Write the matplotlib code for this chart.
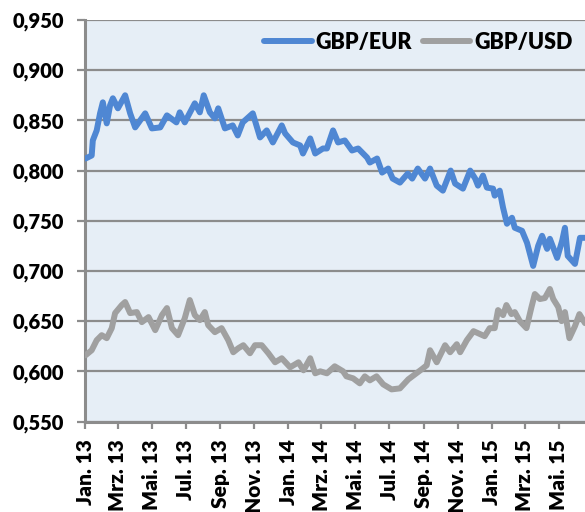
import matplotlib
matplotlib.use('Agg')
import matplotlib.pyplot as plt
import matplotlib.dates as mdates
import matplotlib.ticker as mticker
import pandas as pd

plt.rcParams['font.family'] = ['Lato', 'DejaVu Sans']
plt.rcParams['font.weight'] = 'heavy'

# GBP/EUR
eur_dates = ['2013-01-02', '2013-01-13', '2013-01-15', '2013-01-22', '2013-01-28', '2013-02-02',
             '2013-02-09', '2013-02-15', '2013-02-20', '2013-03-01', '2013-03-14', '2013-03-23',
             '2013-04-01', '2013-04-19', '2013-05-01', '2013-05-16', '2013-05-28', '2013-06-14',
             '2013-06-20', '2013-06-29', '2013-07-17', '2013-07-26', '2013-08-02', '2013-08-13',
             '2013-08-22', '2013-08-28', '2013-09-09', '2013-09-23', '2013-10-02', '2013-10-11',
             '2013-10-29', '2013-11-11', '2013-11-23', '2013-12-04', '2013-12-20', '2013-12-26',
             '2014-01-09', '2014-01-22', '2014-01-27', '2014-02-09', '2014-02-18', '2014-03-04',
             '2014-03-11', '2014-03-22', '2014-03-31', '2014-04-12', '2014-04-25', '2014-05-06',
             '2014-05-22', '2014-05-27', '2014-06-09', '2014-06-18', '2014-06-29', '2014-07-07',
             '2014-07-20', '2014-08-03', '2014-08-11', '2014-08-21', '2014-09-03', '2014-09-12',
             '2014-09-24', '2014-10-05', '2014-10-19', '2014-10-27', '2014-11-10', '2014-11-23',
             '2014-12-02', '2014-12-07', '2014-12-16', '2014-12-23', '2015-01-03', '2015-01-06',
             '2015-01-15', '2015-01-21', '2015-01-28', '2015-02-06', '2015-02-11', '2015-02-24',
             '2015-03-05', '2015-03-16', '2015-03-25', '2015-04-01', '2015-04-10', '2015-04-15',
             '2015-04-28', '2015-05-07', '2015-05-12', '2015-05-17', '2015-05-30', '2015-06-08',
             '2015-06-17']
eur_values = [0.812, 0.815, 0.830, 0.840, 0.857, 0.868,
              0.847, 0.865, 0.872, 0.862, 0.875, 0.857,
              0.843, 0.857, 0.842, 0.843, 0.855, 0.848,
              0.858, 0.848, 0.867, 0.858, 0.875, 0.858,
              0.852, 0.862, 0.842, 0.845, 0.835, 0.848,
              0.857, 0.833, 0.840, 0.828, 0.845, 0.837,
              0.828, 0.825, 0.817, 0.832, 0.817, 0.822,
              0.822, 0.840, 0.828, 0.830, 0.820, 0.822,
              0.813, 0.808, 0.812, 0.798, 0.802, 0.792,
              0.788, 0.797, 0.792, 0.802, 0.792, 0.802,
              0.785, 0.780, 0.800, 0.787, 0.782, 0.800,
              0.792, 0.785, 0.795, 0.783, 0.782, 0.775,
              0.780, 0.763, 0.747, 0.753, 0.743, 0.740,
              0.728, 0.705, 0.725, 0.735, 0.722, 0.732,
              0.713, 0.730, 0.743, 0.715, 0.707, 0.733,
              0.733]

# GBP/USD
usd_dates = ['2013-01-02', '2013-01-13', '2013-01-22', '2013-01-31', '2013-02-09', '2013-02-18',
             '2013-02-24', '2013-03-08', '2013-03-14', '2013-03-23', '2013-04-04', '2013-04-13',
             '2013-04-25', '2013-05-07', '2013-05-19', '2013-05-28', '2013-06-06', '2013-06-17',
             '2013-06-29', '2013-07-08', '2013-07-17', '2013-07-26', '2013-08-04', '2013-08-10',
             '2013-08-22', '2013-09-03', '2013-09-15', '2013-09-24', '2013-10-03', '2013-10-12',
             '2013-10-24', '2013-11-02', '2013-11-14', '2013-11-26', '2013-12-08', '2013-12-20',
             '2014-01-04', '2014-01-19', '2014-01-28', '2014-02-09', '2014-02-18', '2014-02-27',
             '2014-03-11', '2014-03-25', '2014-04-09', '2014-04-15', '2014-04-27', '2014-05-09',
             '2014-05-18', '2014-05-27', '2014-06-08', '2014-06-20', '2014-07-05', '2014-07-20',
             '2014-08-04', '2014-08-16', '2014-08-28', '2014-09-06', '2014-09-12', '2014-09-24',
             '2014-10-09', '2014-10-18', '2014-10-30', '2014-11-05', '2014-11-17', '2014-11-29',
             '2014-12-11', '2014-12-19', '2014-12-28', '2015-01-06', '2015-01-12', '2015-01-21',
             '2015-01-27', '2015-02-05', '2015-02-11', '2015-02-20', '2015-03-04', '2015-03-13',
             '2015-03-19', '2015-03-28', '2015-04-06', '2015-04-15', '2015-04-21', '2015-04-30',
             '2015-05-06', '2015-05-12', '2015-05-20', '2015-05-30', '2015-06-07', '2015-06-17']
usd_values = [0.616, 0.621, 0.631, 0.636, 0.633, 0.643,
              0.658, 0.666, 0.669, 0.658, 0.659, 0.649,
              0.654, 0.641, 0.656, 0.663, 0.643, 0.636,
              0.653, 0.671, 0.656, 0.651, 0.659, 0.646,
              0.639, 0.643, 0.631, 0.619, 0.623, 0.626,
              0.618, 0.626, 0.626, 0.618, 0.609, 0.613,
              0.604, 0.609, 0.601, 0.613, 0.598, 0.600,
              0.598, 0.605, 0.600, 0.595, 0.593, 0.588,
              0.595, 0.591, 0.595, 0.587, 0.582, 0.583,
              0.592, 0.597, 0.602, 0.606, 0.621, 0.609,
              0.626, 0.619, 0.627, 0.619, 0.631, 0.640,
              0.637, 0.635, 0.643, 0.643, 0.661, 0.656,
              0.666, 0.657, 0.659, 0.650, 0.643, 0.664,
              0.677, 0.672, 0.673, 0.682, 0.672, 0.664,
              0.650, 0.659, 0.633, 0.645, 0.657, 0.648]

month_names = {1: 'Jan.', 3: 'Mrz.', 5: 'Mai.', 7: 'Jul.', 9: 'Sep.', 11: 'Nov.'}

fig = plt.figure(figsize=(5.85, 5.12), dpi=100)
ax = fig.add_axes([85 / 585, 90.5 / 512, 500 / 585, 401.5 / 512])
ax.set_facecolor('#E6EEF6')

ax.plot(pd.to_datetime(eur_dates), eur_values, color='#4F87D3', lw=4.3,
        solid_capstyle='round', solid_joinstyle='round', label='GBP/EUR', zorder=3)
ax.plot(pd.to_datetime(usd_dates), usd_values, color='#A0A0A0', lw=4.3,
        solid_capstyle='round', solid_joinstyle='round', label='GBP/USD', zorder=3)

ax.set_ylim(0.55, 0.95)
ax.set_xlim(pd.Timestamp('2013-01-01'), pd.Timestamp('2015-06-17'))
ax.yaxis.set_major_locator(mticker.MultipleLocator(0.05))
ax.yaxis.set_major_formatter(mticker.FuncFormatter(lambda v, p: f'{v:.3f}'.replace('.', ',')))
ax.xaxis.set_major_locator(mdates.MonthLocator(bymonth=[1, 3, 5, 7, 9, 11]))
ax.xaxis.set_major_formatter(mticker.FuncFormatter(
    lambda v, p: f"{month_names[mdates.num2date(v).month]} {mdates.num2date(v).strftime('%y')}"))

ax.grid(axis='y', color='#8C8C8C', lw=1.6, zorder=1)
ax.set_axisbelow(True)
for s in ['top', 'right']:
    ax.spines[s].set_visible(False)
for s in ['left', 'bottom']:
    ax.spines[s].set_color('#8C8C8C')
    ax.spines[s].set_linewidth(2.2)

ax.tick_params(axis='y', length=6, width=1.6, color='#8C8C8C', pad=9, labelsize=14.5)
ax.tick_params(axis='x', length=5, width=1.6, color='#8C8C8C', pad=8, labelsize=15,
               labelrotation=90)
for t in ax.get_xticklabels() + ax.get_yticklabels():
    t.set_fontweight('heavy')

ax.legend(loc='upper right', ncol=2, frameon=False, handlelength=2.2,
          handletextpad=0.2, columnspacing=0.5, borderaxespad=0.15,
          prop={'weight': 'heavy', 'size': 15.5})

fig.savefig('out.png', dpi=100)
